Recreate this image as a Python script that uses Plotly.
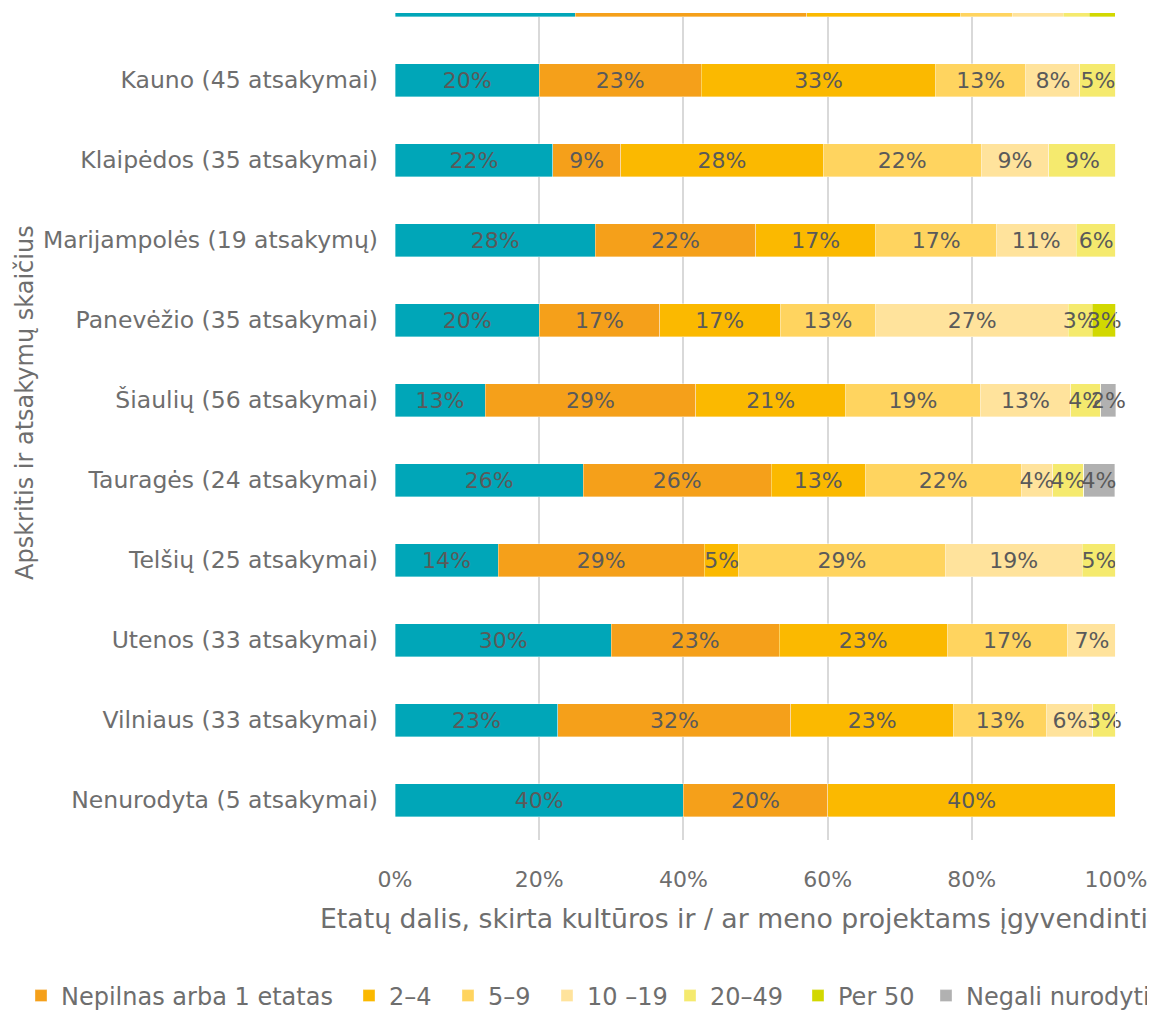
import plotly.graph_objects as go

categories = [
    "Alytaus (28 atsakymai)",
    "Kauno (45 atsakymai)",
    "Klaipėdos (35 atsakymai)",
    "Marijampolės (19 atsakymų)",
    "Panevėžio (35 atsakymai)",
    "Šiaulių (56 atsakymai)",
    "Tauragės (24 atsakymai)",
    "Telšių (25 atsakymai)",
    "Utenos (33 atsakymai)",
    "Vilniaus (33 atsakymai)",
    "Nenurodyta (5 atsakymai)",
]

series_names = [
    "Nėra",
    "Nepilnas arba 1 etatas",
    "2–4",
    "5–9",
    "10 –19",
    "20–49",
    "Per 50",
    "Negali nurodyti",
]

# percentages per series, in category order
s_nera     = [25.0, 20.0, 21.9, 27.8, 20.0, 12.5, 26.1, 14.3, 30.0, 22.6, 40.0]
s_nepilnas = [32.1, 22.5, 9.4, 22.2, 16.7, 29.2, 26.1, 28.6, 23.3, 32.3, 20.0]
s_2_4      = [21.4, 32.5, 28.1, 16.7, 16.7, 20.8, 13.0, 4.8, 23.3, 22.6, 40.0]
s_5_9      = [7.1, 12.5, 21.9, 16.7, 13.3, 18.7, 21.7, 28.6, 16.7, 12.9, 0]
s_10_19    = [7.1, 7.5, 9.4, 11.1, 26.7, 12.5, 4.3, 19.0, 6.7, 6.4, 0]
s_20_49    = [3.6, 5.0, 9.3, 5.5, 3.3, 4.2, 4.3, 4.7, 0, 3.2, 0]
s_per50    = [3.6, 0, 0, 0, 3.3, 0, 0, 0, 0, 0, 0]
s_negali   = [0, 0, 0, 0, 0, 2.1, 4.3, 0, 0, 0, 0]

series_values = [s_nera, s_nepilnas, s_2_4, s_5_9, s_10_19, s_20_49, s_per50, s_negali]
colors = ["#00A6B8", "#F5A01A", "#FBB900", "#FFD45F", "#FFE39C", "#F5EA6E", "#D2D800", "#B1B1B1"]

x_ticks = [0, 20, 40, 60, 80, 100]
x_ticktext = ["0%", "20%", "40%", "60%", "80%", "100%"]
x_title = "Etatų dalis, skirta kultūros ir / ar meno projektams įgyvendinti"
y_title = "Apskritis ir atsakymų skaičius"

FONT = "DejaVu Sans"
TXT = "#6E6E6E"
LBL = "#5A5A5A"

# page has an 8px body margin; all pixel positions below are figure pixels
W, H = 1147, 1003
L, T, R, B = 387, 5, 39, 171
pw, ph = W - L - R, H - T - B


def px2paper_x(px):
    return (px - L) / pw


def px2paper_y(py):
    return (H - B - py) / ph


# left edge (figure px) of each legend entry; the teal series has no entry
legend_left = [None, 13, 341, 440, 539, 662, 790, 918]


def lab(v):
    if v <= 0:
        return ""
    return f"{int(v + 0.5)}%"


fig = go.Figure()
legend_layouts = {}
for k, (name, vals, col) in enumerate(zip(series_names, series_values, colors)):
    lg = None
    if legend_left[k] is not None:
        lg = "legend" if k == 1 else f"legend{k}"
        legend_layouts[lg] = dict(
            orientation="h", x=px2paper_x(legend_left[k]), xanchor="left",
            y=px2paper_y(988), yanchor="middle",
            font=dict(family=FONT, size=24, color=TXT),
            bgcolor="rgba(0,0,0,0)", borderwidth=0,
        )
    fig.add_trace(go.Bar(
        y=categories[1:], x=vals[1:], name=name, orientation="h",
        marker=dict(color=col, line=dict(color="rgba(255,255,255,0.6)", width=0.6)),
        text=[lab(v) for v in vals[1:]],
        textposition="inside", insidetextanchor="middle", constraintext="none",
        textangle=0,
        insidetextfont=dict(family=FONT, size=22, color=LBL),
        cliponaxis=False, showlegend=lg is not None,
        legend=lg if lg else "legend", hoverinfo="x+y+name",
    ))
    fig.add_trace(go.Bar(
        y=categories[:1], x=vals[:1], name=name, orientation="h",
        marker=dict(color=col, line=dict(color="rgba(255,255,255,0.6)", width=0.6)),
        cliponaxis=True, showlegend=False, hoverinfo="x+y+name",
    ))

fig.update_layout(
    width=W, height=H,
    barmode="stack", bargap=0.5875,
    margin=dict(l=L, r=R, t=T, b=B, autoexpand=False),
    paper_bgcolor="white", plot_bgcolor="white",
    font=dict(family=FONT, size=22, color=TXT),
    xaxis=dict(
        range=[0, 100.001], tickvals=x_ticks, ticktext=x_ticktext,
        showgrid=True, gridcolor="#D9D9D9", gridwidth=1.5,
        zeroline=False, showline=False, ticks="",
        tickfont=dict(family=FONT, size=22, color=TXT),
        ticklabelstandoff=24, ticklabeloverflow="allow",
    ),
    yaxis=dict(
        categoryorder="array", categoryarray=categories,
        range=[10.5, 0.1625],
        showgrid=False, zeroline=False, showline=False, ticks="",
        tickfont=dict(family=FONT, size=23.5, color=TXT),
        ticklabelstandoff=16,
    ),
    annotations=[
        dict(text=x_title, x=px2paper_x(726), y=px2paper_y(910),
             xref="paper", yref="paper", showarrow=False,
             xanchor="center", yanchor="middle",
             font=dict(family=FONT, size=26.7, color=TXT)),
        dict(text=y_title, x=px2paper_x(17), y=px2paper_y(395),
             xref="paper", yref="paper", showarrow=False, textangle=-90,
             xanchor="center", yanchor="middle",
             font=dict(family=FONT, size=24, color=TXT)),
    ],
    **legend_layouts,
)

fig.write_html("out.html")
